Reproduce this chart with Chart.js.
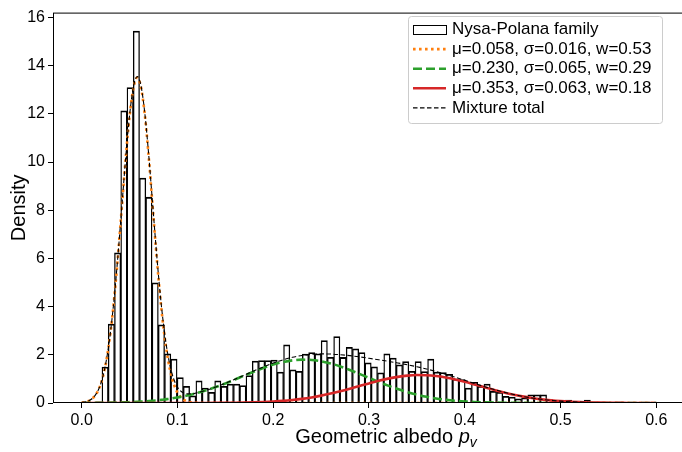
<!DOCTYPE html>
<html lang="en">
<head>
<meta charset="UTF-8">
<title>Nysa-Polana family - geometric albedo</title>
<script src="https://cdn.jsdelivr.net/npm/chart.js"></script>
<style>
  html, body { margin: 0; padding: 0; background: #fff; overflow: hidden; }
  #wrap { width: 682px; height: 452px; overflow: hidden; }
  canvas { display: block; }
</style>
</head>
<body>
<div id="wrap"><canvas id="albedoChart" width="685" height="452"></canvas></div>
<script>
  // histogram: first bin edge, bin width, density per bin
  const binStart = 0.0015;
  const binWidth = 0.00654;
  const density = [
    0.02, 0.03, 0.05, 1.49, 3.28, 6.23, 12.12, 13.09, 15.43, 9.33,
    8.54, 4.99, 3.24, 2.04, 1.82, 1.06, 0.69, 0.30, 0.92, 0.62,
    0.44, 0.92, 0.69, 0.79, 0.79, 0.72, 1.14, 1.74, 1.76, 1.76,
    1.78, 1.28, 2.41, 1.38, 1.31, 2.03, 2.09, 2.04, 2.59, 1.90,
    2.76, 1.89, 2.31, 2.25, 2.09, 1.67, 1.50, 1.25, 2.04, 1.86,
    1.58, 1.72, 1.31, 1.72, 1.30, 1.82, 1.28, 1.26, 1.19, 0.99,
    0.97, 0.62, 0.86, 0.69, 0.79, 0.48, 0.44, 0.28, 0.25, 0.17,
    0.21, 0.34, 0.34, 0.34, 0.14, 0.10, 0.07, 0.12, 0.05, 0.02,
    0.12, 0.03, 0.02, 0, 0, 0, 0, 0, 0, 0
  ];

  // fitted mixture curves, sampled at curveX
  const curveX = [
    0, 0.002, 0.006, 0.010, 0.014, 0.018, 0.022, 0.026, 0.030, 0.034,
    0.038, 0.042, 0.046, 0.050, 0.054, 0.058, 0.062, 0.066, 0.070, 0.074,
    0.078, 0.082, 0.086, 0.090, 0.094, 0.098, 0.102, 0.106, 0.110, 0.114,
    0.118,
    0.13, 0.14, 0.15, 0.16, 0.17, 0.18, 0.19, 0.20, 0.21, 0.22,
    0.23, 0.24, 0.25, 0.26, 0.27, 0.28, 0.29, 0.30, 0.31, 0.32,
    0.33, 0.34, 0.35, 0.36, 0.37, 0.38, 0.39, 0.40, 0.41, 0.42,
    0.43, 0.44, 0.45, 0.46, 0.47, 0.48, 0.49, 0.50, 0.51, 0.52,
    0.53, 0.54, 0.55, 0.56, 0.57, 0.58, 0.59, 0.60
  ];
  const fitLow = [
    0.019, 0.030, 0.069, 0.150, 0.308, 0.593, 1.074, 1.827, 2.920, 4.383,
    6.180, 8.188, 10.190, 11.914, 13.084, 13.500, 13.084, 11.914, 10.190, 8.188,
    6.180, 4.383, 2.920, 1.827, 1.074, 0.593, 0.308, 0.150, 0.069, 0.030,
    0.012,
    0.001, 0, 0, 0, 0, 0, 0, 0, 0, 0,
    0, 0, 0, 0, 0, 0, 0, 0, 0, 0,
    0, 0, 0, 0, 0, 0, 0, 0, 0, 0,
    0, 0, 0, 0, 0, 0, 0, 0, 0, 0,
    0, 0, 0, 0, 0, 0, 0, 0
  ];
  const fitMid = [
    0.003, 0.003, 0.004, 0.005, 0.007, 0.008, 0.010, 0.012, 0.014, 0.017,
    0.021, 0.025, 0.030, 0.036, 0.042, 0.050, 0.059, 0.069, 0.081, 0.094,
    0.109, 0.126, 0.144, 0.166, 0.189, 0.215, 0.244, 0.275, 0.309, 0.346,
    0.387,
    0.525, 0.661, 0.812, 0.975, 1.142, 1.307, 1.461, 1.595, 1.700, 1.770,
    1.798, 1.786, 1.732, 1.641, 1.517, 1.371, 1.209, 1.041, 0.876, 0.720,
    0.578, 0.453, 0.346, 0.259, 0.189, 0.135, 0.094, 0.064, 0.042, 0.027,
    0.017, 0.011, 0.007, 0.004, 0.002, 0.001, 0.001, 0, 0, 0,
    0, 0, 0, 0, 0, 0, 0, 0
  ];
  const fitHigh = [
    0, 0, 0, 0, 0, 0, 0, 0, 0, 0,
    0, 0, 0, 0, 0, 0, 0, 0, 0, 0,
    0, 0, 0, 0, 0, 0, 0, 0, 0.001, 0.001,
    0.001,
    0.002, 0.004, 0.007, 0.011, 0.017, 0.027, 0.041, 0.061, 0.088, 0.125,
    0.172, 0.232, 0.305, 0.390, 0.487, 0.593, 0.704, 0.814, 0.919, 1.011,
    1.085, 1.136, 1.159, 1.153, 1.119, 1.058, 0.976, 0.878, 0.770, 0.659,
    0.550, 0.447, 0.355, 0.274, 0.207, 0.152, 0.109, 0.076, 0.052, 0.035,
    0.022, 0.014, 0.009, 0.005, 0.003, 0.002, 0.001, 0.001
  ];
  const fitTotal = [
    0.022, 0.033, 0.073, 0.155, 0.315, 0.601, 1.084, 1.839, 2.934, 4.400,
    6.201, 8.213, 10.220, 11.950, 13.126, 13.550, 13.143, 11.983, 10.271, 8.282,
    6.289, 4.509, 3.064, 1.993, 1.263, 0.808, 0.552, 0.426, 0.379, 0.377,
    0.400,
    0.528, 0.665, 0.819, 0.986, 1.159, 1.334, 1.502, 1.656, 1.788, 1.895,
    1.970, 2.018, 2.037, 2.031, 2.004, 1.964, 1.913, 1.855, 1.795, 1.731,
    1.663, 1.589, 1.505, 1.412, 1.308, 1.193, 1.070, 0.942, 0.812, 0.686,
    0.567, 0.458, 0.362, 0.278, 0.209, 0.153, 0.110, 0.076, 0.052, 0.035,
    0.022, 0.014, 0.009, 0.005, 0.003, 0.002, 0.001, 0.001
  ];

  const labels = [
    'Nysa-Polana family',
    'μ=0.058, σ=0.016, w=0.53',
    'μ=0.230, σ=0.065, w=0.29',
    'μ=0.353, σ=0.063, w=0.18',
    'Mixture total'
  ];
  const yTicks = { min: 0, max: 16.2, step: 2 };
  const xTicks = { min: -0.03, max: 0.63, step: 0.1 };

  const FONT = '"Liberation Sans", Arial, Helvetica, sans-serif';
  Chart.defaults.font.family = FONT;
  Chart.defaults.color = '#000';

  const histPoints = density.map((d, k) => ({ x: binStart + (k + 0.5) * binWidth, y: d }));
  const toPoints = ys => curveX.map((x, i) => ({ x: x, y: ys[i] }));

  // spines, legend box and axis labels drawn matplotlib-style
  const mplDecor = {
    id: 'mplDecor',
    afterDatasetsDraw(chart) {
      const { ctx, chartArea: a } = chart;
      ctx.save();
      ctx.strokeStyle = '#000';
      ctx.lineWidth = 1;
      ctx.setLineDash([]);
      ctx.strokeRect(a.left + 0.5, a.top + 0.5, a.right - a.left - 1, a.bottom - a.top - 1);

      // legend
      const L = { x: 408, y: 16, w: 254, h: 107, row0: 29.5, step: 19.6, hx: 413, hlen: 33, tx: 452 };
      ctx.beginPath();
      ctx.roundRect(L.x + 0.5, L.y + 0.5, L.w, L.h, 3);
      ctx.fillStyle = 'rgba(255,255,255,0.8)';
      ctx.fill();
      ctx.strokeStyle = '#cccccc';
      ctx.stroke();
      chart.data.datasets.forEach((ds, i) => {
        const y = L.row0 + i * L.step;
        if (ds.type === 'bar') {
          ctx.setLineDash([]);
          ctx.lineWidth = 1;
          ctx.strokeStyle = '#000';
          ctx.strokeRect(L.hx + 0.5, Math.round(y - 5) + 0.5, L.hlen, 9);
        } else {
          ctx.setLineDash(ds.borderDash || []);
          ctx.lineWidth = ds.borderWidth;
          ctx.strokeStyle = ds.borderColor;
          ctx.beginPath();
          ctx.moveTo(L.hx, y);
          ctx.lineTo(L.hx + L.hlen, y);
          ctx.stroke();
        }
        ctx.setLineDash([]);
        ctx.fillStyle = '#000';
        ctx.font = '17px ' + FONT;
        ctx.textAlign = 'left';
        ctx.textBaseline = 'middle';
        ctx.fillText(ds.label, L.tx, y);
      });
      ctx.restore();
    },
    afterDraw(chart) {
      const { ctx, chartArea: a } = chart;
      ctx.save();
      ctx.fillStyle = '#000';
      // x label with italic p and subscript v
      const fMain = '20px ' + FONT, fIt = 'italic 20px ' + FONT, fSub = 'italic 14px ' + FONT;
      const t1 = 'Geometric albedo ';
      ctx.font = fMain; const w1 = ctx.measureText(t1).width;
      ctx.font = fIt; const w2 = ctx.measureText('p').width;
      ctx.font = fSub; const w3 = ctx.measureText('v').width;
      let x = 386 - (w1 + w2 + w3) / 2;
      const base = 443;
      ctx.textAlign = 'left';
      ctx.textBaseline = 'alphabetic';
      ctx.font = fMain; ctx.fillText(t1, x, base); x += w1;
      ctx.font = fIt; ctx.fillText('p', x, base); x += w2;
      ctx.font = fSub; ctx.fillText('v', x, base + 4);
      // y label
      ctx.translate(19, (a.top + a.bottom) / 2);
      ctx.rotate(-Math.PI / 2);
      ctx.font = fMain;
      ctx.textAlign = 'center';
      ctx.textBaseline = 'middle';
      ctx.fillText('Density', 0, 0);
      ctx.restore();
    }
  };

  const lineSet = (label, ys, color, width, dash, order) => ({
    type: 'line', label: label, data: toPoints(ys),
    borderColor: color, borderWidth: width, borderDash: dash,
    pointRadius: 0, fill: false, cubicInterpolationMode: 'monotone', order: order
  });

  new Chart(document.getElementById('albedoChart'), {
    type: 'bar',
    data: {
      datasets: [
        {
          type: 'bar', label: labels[0], data: histPoints,
          backgroundColor: 'rgba(0,0,0,0)', borderColor: '#000',
          borderWidth: { left: 0.7, right: 0.7, top: 1.1, bottom: 0 },
          borderSkipped: false,
          barPercentage: 1, categoryPercentage: 1, grouped: false, order: 5
        },
        lineSet(labels[1], fitLow, '#ff7f0e', 2.6, [2.6, 3.4], 4),
        lineSet(labels[2], fitMid, '#2ca02c', 2.6, [9, 4], 3),
        lineSet(labels[3], fitHigh, '#d62728', 2.6, [], 2),
        lineSet(labels[4], fitTotal, '#000000', 1.1, [4.5, 2.5], 1)
      ]
    },
    options: {
      responsive: false,
      animation: false,
      events: [],
      layout: { padding: { top: 11, right: 0, left: 0, bottom: 0 } },
      plugins: { legend: { display: false }, tooltip: { enabled: false } },
      scales: {
        x: {
          type: 'linear', min: xTicks.min, max: xTicks.max, offset: false,
          afterFit: s => { s.height = 49; },
          border: { display: false },
          grid: { display: true, offset: false, drawOnChartArea: false, drawTicks: true, tickLength: 5, tickColor: '#000' },
          ticks: {
            stepSize: xTicks.step, includeBounds: false, autoSkip: false, maxRotation: 0,
            padding: 3, font: { size: 16 }, color: '#000',
            callback: v => Number(v).toFixed(1)
          }
        },
        y: {
          min: yTicks.min, max: yTicks.max,
          afterFit: s => { s.width = 53; },
          border: { display: false },
          grid: { display: true, drawOnChartArea: false, drawTicks: true, tickLength: 5, tickColor: '#000' },
          ticks: {
            stepSize: yTicks.step, includeBounds: false, autoSkip: false,
            padding: 3, font: { size: 16 }, color: '#000',
            callback: v => String(v)
          }
        }
      }
    },
    plugins: [mplDecor]
  });
</script>
</body>
</html>
